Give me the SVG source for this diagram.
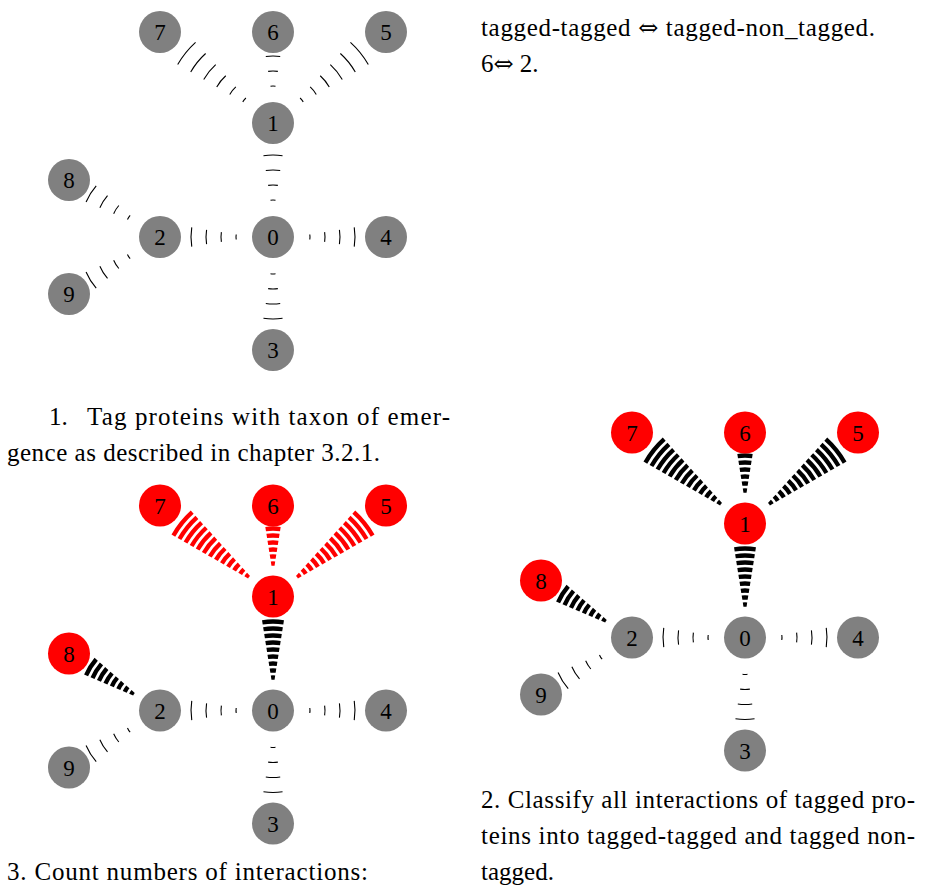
<svg xmlns="http://www.w3.org/2000/svg" width="926" height="886" viewBox="0 0 926 886">
  <style>
    .gray circle { fill: #808080; }
    .red circle { fill: #ff0000; }
    .lbl { font-family: "Liberation Serif", serif; font-size: 23px; text-anchor: middle; fill: #000; }
    .txt { font-family: "Liberation Serif", serif; font-size: 25px; fill: #000; }
    .sym { font-family: "DejaVu Serif", "DejaVu Sans", serif; font-size: 24px; }
    .wthin { fill: none; stroke-width: 1.1; }
    .wthick { fill: none; stroke-width: 4.3; }
    .edges { stroke: #000; }
    .edges .hot { stroke: #ff0000; }
  </style>
  <defs>
    <!-- expanding waves, thin: arcs every 15px, opening angle 18 degrees, centred on the source -->
    <g id="t3" class="wthin">
      <path d="M15.80,-2.50 A16,16 0 0 1 15.80,2.50"/>
      <path d="M30.62,-4.85 A31,31 0 0 1 30.62,4.85"/>
      <path d="M45.43,-7.20 A46,46 0 0 1 45.43,7.20"/>
    </g>
    <g id="t4" class="wthin">
      <use href="#t3"/>
      <path d="M60.25,-9.54 A61,61 0 0 1 60.25,9.54"/>
    </g>
    <g id="t6" class="wthin">
      <use href="#t4"/>
      <path d="M75.06,-11.89 A76,76 0 0 1 75.06,11.89"/>
      <path d="M89.88,-14.24 A91,91 0 0 1 89.88,14.24"/>
    </g>
    <!-- expanding waves, thick: dense arcs every 7px -->
    <g id="k6" class="wthick">
      <path d="M11.85,-1.88 A12,12 0 0 1 11.85,1.88"/>
      <path d="M18.77,-2.97 A19,19 0 0 1 18.77,2.97"/>
      <path d="M25.68,-4.07 A26,26 0 0 1 25.68,4.07"/>
      <path d="M32.59,-5.16 A33,33 0 0 1 32.59,5.16"/>
      <path d="M39.51,-6.26 A40,40 0 0 1 39.51,6.26"/>
      <path d="M46.42,-7.35 A47,47 0 0 1 46.42,7.35"/>
    </g>
    <g id="k8" class="wthick">
      <use href="#k6"/>
      <path d="M53.34,-8.45 A54,54 0 0 1 53.34,8.45"/>
      <path d="M60.25,-9.54 A61,61 0 0 1 60.25,9.54"/>
    </g>
    <g id="k9" class="wthick">
      <use href="#k8"/>
      <path d="M67.16,-10.64 A68,68 0 0 1 67.16,10.64"/>
    </g>
    <g id="k13" class="wthick">
      <use href="#k9"/>
      <path d="M74.08,-11.73 A75,75 0 0 1 74.08,11.73"/>
      <path d="M80.99,-12.83 A82,82 0 0 1 80.99,12.83"/>
      <path d="M87.90,-13.92 A89,89 0 0 1 87.90,13.92"/>
      <path d="M94.82,-15.02 A96,96 0 0 1 94.82,15.02"/>
    </g>
  </defs>

  <!-- Graph A: all proteins untagged -->
  <g id="graphA">
    <g id="graphA-edges" class="edges">
      <use href="#t4" transform="translate(273,216) rotate(-90)"/>
      <use href="#t4" transform="translate(252,237) rotate(180)"/>
      <use href="#t4" transform="translate(273,258) rotate(90)"/>
      <use href="#t4" transform="translate(294,237)"/>
      <use href="#t4" transform="translate(142.2,225.85) rotate(-147.94)"/>
      <use href="#t4" transform="translate(142.2,248.15) rotate(147.94)"/>
      <use href="#t3" transform="translate(273,102) rotate(-90)"/>
      <use href="#t6" transform="translate(256.64,109.83) rotate(-141.16)"/>
      <use href="#t6" transform="translate(289.36,109.83) rotate(-38.84)"/>
    </g>
    <g id="a-n0" class="gray"><circle cx="273" cy="237" r="21"/><text class="lbl" x="273" y="245">0</text></g>
    <g id="a-n1" class="gray"><circle cx="273" cy="123" r="21"/><text class="lbl" x="273" y="131">1</text></g>
    <g id="a-n2" class="gray"><circle cx="160" cy="237" r="21"/><text class="lbl" x="160" y="245">2</text></g>
    <g id="a-n3" class="gray"><circle cx="273" cy="350" r="21"/><text class="lbl" x="273" y="358">3</text></g>
    <g id="a-n4" class="gray"><circle cx="386" cy="237" r="21"/><text class="lbl" x="386" y="245">4</text></g>
    <g id="a-n5" class="gray"><circle cx="386" cy="32" r="21"/><text class="lbl" x="386" y="40">5</text></g>
    <g id="a-n6" class="gray"><circle cx="273" cy="32" r="21"/><text class="lbl" x="273" y="40">6</text></g>
    <g id="a-n7" class="gray"><circle cx="160" cy="32" r="21"/><text class="lbl" x="160" y="40">7</text></g>
    <g id="a-n8" class="gray"><circle cx="69" cy="180" r="21"/><text class="lbl" x="69" y="188">8</text></g>
    <g id="a-n9" class="gray"><circle cx="69" cy="294" r="21"/><text class="lbl" x="69" y="302">9</text></g>
  </g>

  <!-- Graph B: counting interactions -->
  <g id="graphB" transform="translate(0,473.5)">
    <g id="graphB-edges" class="edges">
      <use href="#k9" transform="translate(273,216) rotate(-90)"/>
      <use href="#t4" transform="translate(252,237) rotate(180)"/>
      <use href="#t4" transform="translate(273,258) rotate(90)"/>
      <use href="#t4" transform="translate(294,237)"/>
      <use href="#k8" transform="translate(142.2,225.85) rotate(-147.94)"/>
      <use href="#t4" transform="translate(142.2,248.15) rotate(147.94)"/>
      <use class="hot" href="#k6" transform="translate(273,102) rotate(-90)"/>
      <use class="hot" href="#k13" transform="translate(256.64,109.83) rotate(-141.16)"/>
      <use class="hot" href="#k13" transform="translate(289.36,109.83) rotate(-38.84)"/>
    </g>
    <g id="b-n0" class="gray"><circle cx="273" cy="237" r="21"/><text class="lbl" x="273" y="245">0</text></g>
    <g id="b-n1" class="red"><circle cx="273" cy="123" r="21"/><text class="lbl" x="273" y="131">1</text></g>
    <g id="b-n2" class="gray"><circle cx="160" cy="237" r="21"/><text class="lbl" x="160" y="245">2</text></g>
    <g id="b-n3" class="gray"><circle cx="273" cy="350" r="21"/><text class="lbl" x="273" y="358">3</text></g>
    <g id="b-n4" class="gray"><circle cx="386" cy="237" r="21"/><text class="lbl" x="386" y="245">4</text></g>
    <g id="b-n5" class="red"><circle cx="386" cy="32" r="21"/><text class="lbl" x="386" y="40">5</text></g>
    <g id="b-n6" class="red"><circle cx="273" cy="32" r="21"/><text class="lbl" x="273" y="40">6</text></g>
    <g id="b-n7" class="red"><circle cx="160" cy="32" r="21"/><text class="lbl" x="160" y="40">7</text></g>
    <g id="b-n8" class="red"><circle cx="69" cy="180" r="21"/><text class="lbl" x="69" y="188">8</text></g>
    <g id="b-n9" class="gray"><circle cx="69" cy="294" r="21"/><text class="lbl" x="69" y="302">9</text></g>
  </g>

  <!-- Graph C: classified interactions -->
  <g id="graphC" transform="translate(472,400.5)">
    <g id="graphC-edges" class="edges">
      <use href="#k9" transform="translate(273,216) rotate(-90)"/>
      <use href="#t4" transform="translate(252,237) rotate(180)"/>
      <use href="#t4" transform="translate(273,258) rotate(90)"/>
      <use href="#t4" transform="translate(294,237)"/>
      <use href="#k8" transform="translate(142.2,225.85) rotate(-147.94)"/>
      <use href="#t4" transform="translate(142.2,248.15) rotate(147.94)"/>
      <use href="#k6" transform="translate(273,102) rotate(-90)"/>
      <use href="#k13" transform="translate(256.64,109.83) rotate(-141.16)"/>
      <use href="#k13" transform="translate(289.36,109.83) rotate(-38.84)"/>
    </g>
    <g id="c-n0" class="gray"><circle cx="273" cy="237" r="21"/><text class="lbl" x="273" y="245">0</text></g>
    <g id="c-n1" class="red"><circle cx="273" cy="123" r="21"/><text class="lbl" x="273" y="131">1</text></g>
    <g id="c-n2" class="gray"><circle cx="160" cy="237" r="21"/><text class="lbl" x="160" y="245">2</text></g>
    <g id="c-n3" class="gray"><circle cx="273" cy="350" r="21"/><text class="lbl" x="273" y="358">3</text></g>
    <g id="c-n4" class="gray"><circle cx="386" cy="237" r="21"/><text class="lbl" x="386" y="245">4</text></g>
    <g id="c-n5" class="red"><circle cx="386" cy="32" r="21"/><text class="lbl" x="386" y="40">5</text></g>
    <g id="c-n6" class="red"><circle cx="273" cy="32" r="21"/><text class="lbl" x="273" y="40">6</text></g>
    <g id="c-n7" class="red"><circle cx="160" cy="32" r="21"/><text class="lbl" x="160" y="40">7</text></g>
    <g id="c-n8" class="red"><circle cx="69" cy="180" r="21"/><text class="lbl" x="69" y="188">8</text></g>
    <g id="c-n9" class="gray"><circle cx="69" cy="294" r="21"/><text class="lbl" x="69" y="302">9</text></g>
  </g>

  <!-- captions -->
  <g id="captions" class="txt">
    <text x="481" y="36" textLength="394" lengthAdjust="spacing">tagged-tagged <tspan class="sym">⇔</tspan> tagged-non_tagged.</text>
    <text x="481" y="72">6<tspan class="sym">⇔</tspan> 2.</text>

    <text x="49" y="425">1.</text>
    <text x="87" y="425" textLength="363" lengthAdjust="spacing">Tag proteins with taxon of emer-</text>
    <text x="7" y="461" textLength="373" lengthAdjust="spacing">gence as described in chapter 3.2.1.</text>

    <text x="481" y="808" textLength="434" lengthAdjust="spacing">2. Classify all interactions of tagged pro-</text>
    <text x="481" y="844" textLength="434" lengthAdjust="spacing">teins into tagged-tagged and tagged non-</text>
    <text x="481" y="880">tagged.</text>

    <text x="7" y="880" textLength="361" lengthAdjust="spacing">3. Count numbers of interactions:</text>
  </g>
</svg>
